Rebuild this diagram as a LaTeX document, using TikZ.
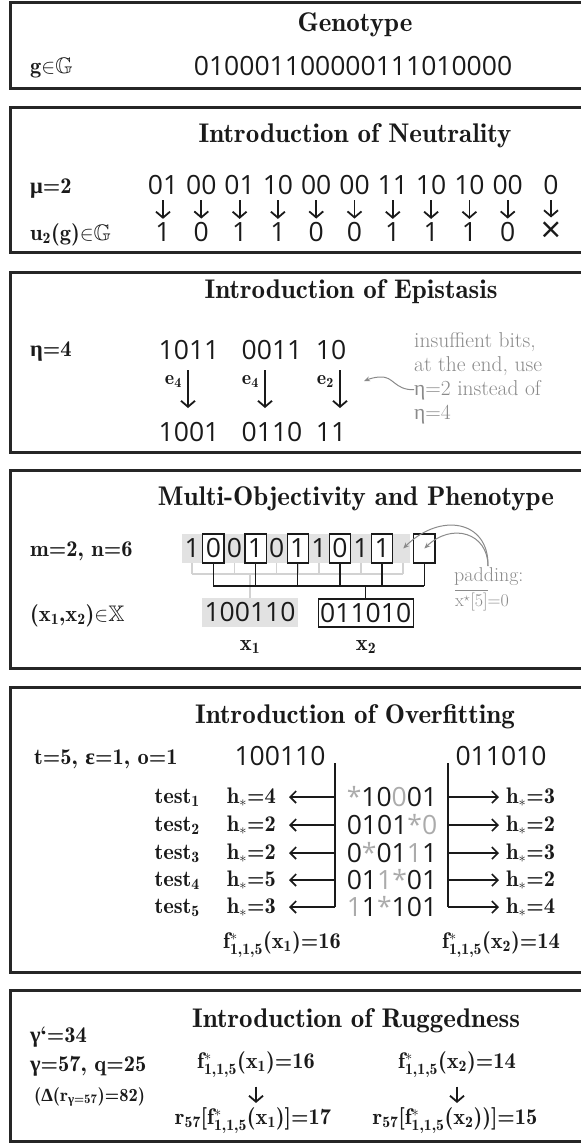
\documentclass[tikz,border=0pt]{standalone}
\usepackage{amsmath,amssymb}
\usepackage{fontspec}
\newfontfamily\bitfont{Open Sans}
\newfontfamily\grk{Liberation Serif}
\usetikzlibrary{arrows.meta,backgrounds}
\definecolor{frm}{HTML}{262626}
\definecolor{ink}{HTML}{1A1A1A}
\definecolor{txtgray}{HTML}{8A8A8A}
\definecolor{bggray}{HTML}{E2E2E2}
\definecolor{combgray}{HTML}{D2D2D2}
\definecolor{dgray}{HTML}{ABABAB}
\newcommand{\dm}{\fontseries{b}\selectfont}
\newcommand{\ttlf}{\fontsize{27}{30}\selectfont\dm}
\newcommand{\lblf}{\fontsize{22.5}{26}\selectfont\dm}
\newcommand{\elf}{\fontsize{20}{24}\selectfont\dm}
\newcommand{\smlf}{\fontsize{18.5}{22}\selectfont\dm}
\newcommand{\grayf}{\fontsize{21.5}{25}\selectfont}
\newcommand{\padf}{\fontsize{20}{24}\selectfont}
\newcommand{\padsf}{\fontsize{18}{22}\selectfont}
\newcommand{\bitf}{\bitfont\fontsize{26.5}{30}\selectfont}
\newcommand{\sbs}[1]{\textsubscript{#1}}
\newcommand{\gk}[1]{{\grk #1}}
\newcommand{\gb}[1]{{\color{dgray}#1}}
\tikzset{
  frame/.style={draw=frm, line width=3pt},
  ttl/.style={font=\ttlf, anchor=base, inner sep=0pt, text=ink},
  lbl/.style={font=\lblf, anchor=base west, inner sep=0pt, text=ink},
  bits/.style={font=\bitf, anchor=base, inner sep=0pt, text=ink},
  gtxt/.style={font=\grayf, anchor=base west, inner sep=0pt, text=txtgray},
  downarr/.style={draw=ink, line width=1.8pt, -{Straight Barb[length=6pt,width=14pt]}},
  sidearr/.style={draw=ink, line width=1.6pt, -{Straight Barb[length=6pt,width=12pt]}},
  vline/.style={draw=ink, line width=1.6pt},
  cell/.style={font=\bitf, minimum width=21.1pt, minimum height=29pt, inner sep=0pt, text=ink},
  boxcell/.style={cell, draw=ink, line width=1.2pt, fill=white},
  combg/.style={draw=combgray, line width=1.6pt},
  combb/.style={draw=ink, line width=1.4pt},
  padarr/.style={draw=txtgray, line width=1pt, -{Stealth[length=6pt,width=5pt]}},
}
\begin{document}
\begin{tikzpicture}[x=1pt,y=-1pt]
\useasboundingbox (0,0) rectangle (581,1146);
% frames
\draw[frame] (10,2) rectangle (600,88);
\draw[frame] (10,107) rectangle (600,252);
\draw[frame] (10,272) rectangle (600,452);
\draw[frame] (10,470) rectangle (600,668);
\draw[frame] (10,687) rectangle (600,972);
\draw[frame] (10,990) rectangle (600,1141);

% ---- Genotype
\node[ttl] (t1) at (355,31) {Genotype};
\node[lbl] (gl) at (30,73) {g${\in}\mathbb{G}$};
\node[bits] (geno) at (353,75) {010001100000111010000};

% ---- Neutrality
\node[ttl] (t2) at (355,142) {Introduction of Neutrality};
\node[lbl] (mul) at (30,193) {\gk{μ}=2};
\node[lbl] (ul) at (30,240) {u\sbs{2}(g)${\in}\mathbb{G}$};
\foreach \p/\u [count=\i] in {01/1,00/0,01/1,10/1,00/0,00/0,11/1,10/1,10/1,00/0}{
  \node[bits] (np\i) at ({163+38.3*(\i-1)},194) {\p};
  \node[bits] (nu\i) at ({163+38.3*(\i-1)},241) {\u};
  \draw[downarr, shorten <=6pt, shorten >=3pt] (np\i.south) -- (nu\i.north);
}
\node[bits] (np11) at (551,194) {0};
\node[font=\bitfont\fontsize{36}{36}\selectfont, inner sep=0pt, text=ink] (nu11) at (551,232) {×};
\draw[downarr, shorten <=6pt, shorten >=4pt] (np11.south) -- (np11.south |- nu11.north);

% ---- Epistasis
\node[ttl] (t3) at (351,298) {Introduction of Epistasis};
\node[lbl] (etal) at (30,356) {\gk{η}=4};
\node[bits] (ea) at (189,359) {1011};
\node[bits] (eb) at (272,359) {0011};
\node[bits] (ec) at (331,359) {10};
\node[bits] (fa) at (189,441) {1001};
\node[bits] (fb) at (272,441) {0110};
\node[bits] (fc) at (331,441) {11};
\coordinate (ea1) at (188,370); \coordinate (eb1) at (188,408);
\coordinate (ea2) at (265,370); \coordinate (eb2) at (265,408);
\coordinate (ea3) at (340,370); \coordinate (eb3) at (340,408);
\draw[downarr] (ea1) -- (eb1);
\draw[downarr] (ea2) -- (eb2);
\draw[downarr] (ea3) -- (eb3);
\node[font=\elf, anchor=base east, inner sep=0pt, text=ink] (el1) at (182,384) {e\sbs{4}};
\node[font=\elf, anchor=base east, inner sep=0pt, text=ink] (el2) at (259,384) {e\sbs{4}};
\node[font=\elf, anchor=base east, inner sep=0pt, text=ink] (el3) at (334,384) {e\sbs{2}};
\node[gtxt] (g1) at (414,347) {insuffient bits,};
\node[gtxt] (g2) at (414,371) {at the end, use};
\node[gtxt] (g3) at (414,395) {\gk{η}=2 instead of};
\node[gtxt] (g4) at (414,419) {\gk{η}=4};
\coordinate (etip) at (364,381);
\draw[padarr] (g3.west) .. controls (394,390) and (394,376) .. (380,377) .. controls (375,377) and (369,379) .. (etip);

% ---- Multi-objectivity
\node[ttl] (t4) at (356,505) {Multi-Objectivity and Phenotype};
\node[lbl] (mnl) at (30,556) {m=2, n=6};
\node[lbl] (xxl) at (30,621) {(x\sbs{1},x\sbs{2})${\in}\mathbb{X}$};
\foreach \d [count=\i] in {1,0,0,1,0,1,1,0,1,1,\phantom{0},\phantom{0}} {
  \ifodd\i
    \node[cell] (c\i) at ({192.25+21.1*(\i-1)},548.5) {\d};
  \else
    \node[boxcell] (c\i) at ({192.25+21.1*(\i-1)},548.5) {\d};
  \fi
}
\begin{scope}[on background layer]
\fill[bggray] (c1.north west) rectangle ([xshift=-4pt]c11.south east);
\end{scope}
\coordinate (gy) at (0,574);
\coordinate (by) at (0,586);
\node[cell, fill=bggray, minimum width=96.6pt] (x1n) at (250,612.5) {100110};
\node[boxcell, minimum width=95pt, minimum height=28pt] (x2n) at (365.7,613) {011010};
\foreach \i in {1,...,11} \draw[combg] (c\i.south) -- (c\i.south |- gy);
\draw[combg] (c1.south |- gy) -- (c11.south |- gy);
\draw[combg] (x1n.north |- gy) -- (x1n.north);
\foreach \i in {2,4,...,12} \draw[combb] (c\i.south) -- (c\i.south |- by);
\draw[combb] (c2.south |- by) -- (c12.south |- by);
\draw[combb] (x2n.north |- by) -- (x2n.north);
\node[lbl, anchor=base] (x1l) at (250,650) {x\sbs{1}};
\node[lbl, anchor=base] (x2l) at (366,650) {x\sbs{2}};
\node[gtxt, font=\padf] (pd) at (454,581) {padding:};
\node[gtxt, font=\padsf] (pdv) at (455,606) {$\overline{\text{x}^{\star}\text{[5]}}$=0};
\coordinate (pds) at (488,566);
\draw[padarr] (pds) .. controls (489,520) and (440,512) .. (c11.center);
\draw[padarr] (pds) .. controls (488,533) and (452,522) .. (c12.center);

% ---- Overfitting
\node[ttl] (t5) at (355,723) {Introduction of Overfitting};
\node[lbl] (tel) at (34,764) {t=5, \gk{ε}=1, o=1};
\node[bits] (o1) at (280,765) {100110};
\node[bits] (o2) at (501,765) {011010};
\coordinate (lvt) at (335,763);
\coordinate (rvt) at (448,763);
\foreach \y/\s/\hl/\hr [count=\i] in {797/{\gb{*}10\gb{0}01}/4/3, 825/{0101\gb{*0}}/2/2, 853/{0\gb{*}01\gb{1}1}/2/3, 880/{01\gb{1*}01}/5/2, 907/{\gb{1}1\gb{*}101}/3/4} {
  \node[lbl, anchor=base east] (tl\i) at (200,\y+6) {test\sbs{\i}};
  \node[lbl, anchor=base east] (hl\i) at (276,\y+6) {h$_*$=\hl};
  \node[bits] (os\i) at (392,\y+9) {\s};
  \node[lbl] (hr\i) at (506,\y+6) {h$_*$=\hr};
  \coordinate (lr\i) at (335,\y);
  \coordinate (rr\i) at (448,\y);
  \draw[sidearr, shorten >=13pt] (lr\i) -- (hl\i.east |- lr\i);
  \draw[sidearr, shorten >=7pt] (rr\i) -- (hr\i.west |- rr\i);
}
\draw[vline] (lvt) -- (lr5);
\draw[vline] (rvt) -- (rr5);
\node[lbl, anchor=base] (f1) at (282,948) {f$^{*}_{\text{1,1,5}}$(x\sbs{1})=16};
\node[lbl, anchor=base] (f2) at (501,948) {f$^{*}_{\text{1,1,5}}$(x\sbs{2})=14};

% ---- Ruggedness
\node[ttl] (t6) at (356,1027) {Introduction of Ruggedness};
\node[lbl] (gpl) at (30,1042) {\gk{γ}`=34};
\node[lbl] (gql) at (30,1071) {\gk{γ}=57, q=25};
\node[font=\smlf, anchor=base west, inner sep=0pt, text=ink] (dl) at (34,1101) {(\gk{Δ}(r\sbs{\gk{γ}=57})=82)};
\node[lbl, anchor=base] (rf1) at (256,1068) {f$^{*}_{\text{1,1,5}}$(x\sbs{1})=16};
\node[lbl, anchor=base] (rf2) at (457,1068) {f$^{*}_{\text{1,1,5}}$(x\sbs{2})=14};
\node[lbl, anchor=base] (rg1) at (253,1124) {r\sbs{57}[f$^{*}_{\text{1,1,5}}$(x\sbs{1})]=17};
\node[lbl, anchor=base] (rg2) at (455,1124) {r\sbs{57}[f$^{*}_{\text{1,1,5}}$(x\sbs{2}))]=15};
\draw[downarr, shorten <=9pt, shorten >=4pt] (rf1.south) -- (rf1.south |- rg1.north);
\draw[downarr, shorten <=9pt, shorten >=4pt] (rf2.south) -- (rf2.south |- rg2.north);
\end{tikzpicture}
\end{document}
